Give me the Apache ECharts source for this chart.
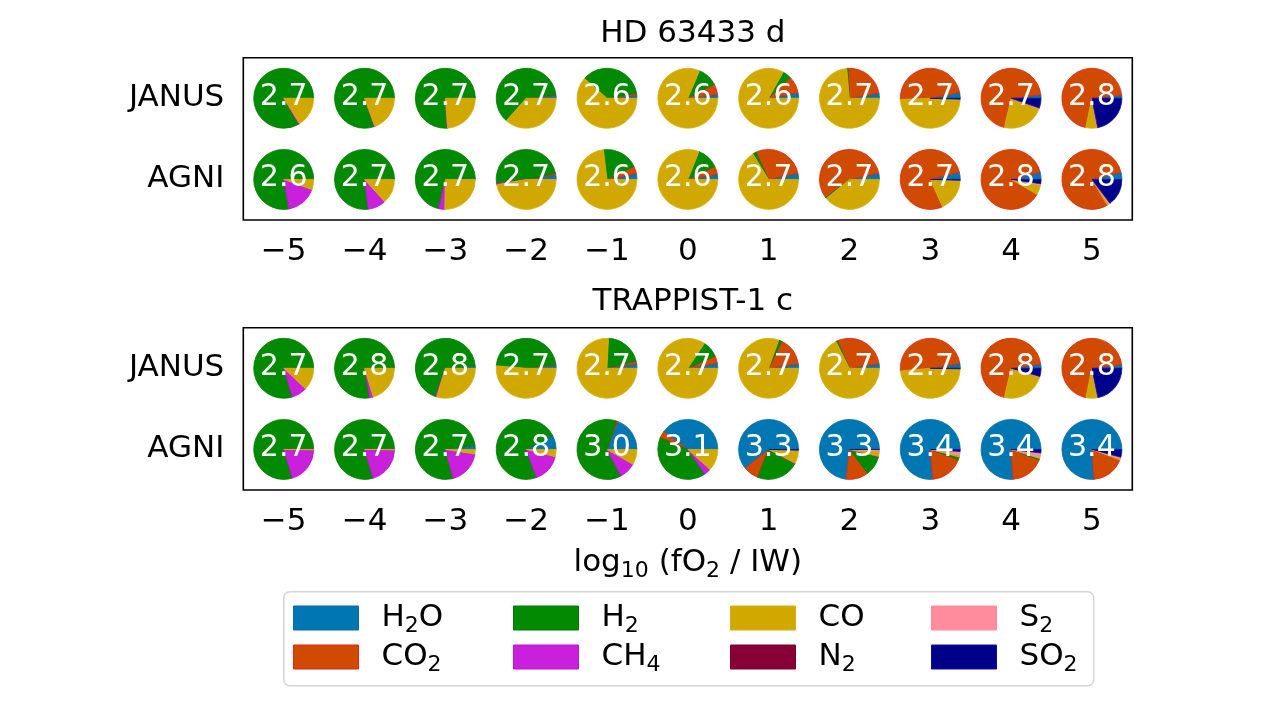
<!DOCTYPE html>
<html>
<head>
<meta charset="utf-8">
<script src="https://cdn.jsdelivr.net/npm/echarts@6/dist/echarts.min.js"></script>
<style>
  html, body { margin: 0; padding: 0; background: #fff; }
  #chart { width: 1279px; height: 720px; }
</style>
</head>
<body>
<div id="chart"></div>
<script>
// wedge order: counter-clockwise from 3 o'clock
const species = ['H2O', 'CO2', 'H2', 'CH4', 'CO', 'N2', 'S2', 'SO2'];
const speciesColors = ['#0077b3', '#d14a02', '#028a02', '#c820db', '#d1a800', '#870036', '#ff8c9d', '#00008b'];
const speciesEdges = ['#0a6aa0', '#e2250f', '#027a02', '#c010d0', '#d8ae10', '#7a0030', '#ff8c9d', '#10109a'];
const speciesLabels = {
    H2O: '{n|H}{s|2}{n|O}', CO2: '{n|CO}{s|2}', H2: '{n|H}{s|2}', CH4: '{n|CH}{s|4}',
    CO: '{n|CO}{s|\u200b}', N2: '{n|N}{s|2}', S2: '{n|S}{s|2}', SO2: '{n|SO}{s|2}'
};

const xLabels = ['\u22125', '\u22124', '\u22123', '\u22122', '\u22121', '0', '1', '2', '3', '4', '5'];
const models = ['JANUS', 'AGNI'];
const planets = ['HD 63433 d', 'TRAPPIST-1 c'];

// mole fractions in %, one row per log10(fO2/IW) step, columns follow `species`
const hdJanus = [
    [0, 0, 83.3, 0.6, 16.1, 0, 0, 0],
    [0, 0, 80.3, 0.3, 19.4, 0, 0, 0],
    [0.4, 0, 75.6, 0.2, 23.8, 0, 0, 0],
    [1.6, 0.3, 61.6, 0, 36.5, 0, 0, 0],
    [1.7, 1.0, 35.8, 0, 61.5, 0, 0, 0],
    [2.2, 5.6, 10.8, 0, 81.4, 0, 0, 0],
    [3.0, 9.2, 4.7, 0, 83.1, 0, 0, 0],
    [2.8, 23.0, 0.6, 0, 73.6, 0, 0, 0],
    [3.1, 47.5, 0, 0, 48.9, 0, 0, 0.5],
    [1.9, 69.5, 0, 0, 23.0, 0, 0.3, 5.3],
    [1.7, 70.0, 0, 0, 6.1, 0, 0.3, 21.9]
];
const hdAgni = [
    [0, 0, 77.8, 16.7, 5.5, 0, 0, 0],
    [0.3, 0, 76.7, 9.7, 13.3, 0, 0, 0],
    [0.8, 0, 70.6, 3.3, 25.3, 0, 0, 0],
    [2.5, 0.8, 48.9, 0.7, 47.1, 0, 0, 0],
    [3.1, 4.1, 19.7, 0, 73.1, 0, 0, 0],
    [2.8, 4.4, 11.7, 0, 81.1, 0, 0, 0],
    [3.3, 28.7, 1.8, 0, 66.2, 0, 0, 0],
    [3.3, 57.0, 0.6, 0, 39.1, 0, 0, 0],
    [3.9, 77.8, 0, 0, 17.8, 0, 0, 0.5],
    [3.9, 87.8, 0, 0, 5.5, 0, 0.5, 2.3],
    [3.9, 79.7, 0, 0, 1.1, 0, 0.6, 14.7]
];
const trJanus = [
    [0, 0, 79.7, 8.3, 12.0, 0, 0, 0],
    [0.4, 0, 77.4, 1.9, 20.3, 0, 0, 0],
    [1.4, 0, 68.3, 0.6, 29.7, 0, 0, 0],
    [1.7, 0.3, 46.7, 0, 51.3, 0, 0, 0],
    [2.5, 1.4, 20.3, 0, 75.8, 0, 0, 0],
    [2.8, 3.9, 8.9, 0, 84.4, 0, 0, 0],
    [2.5, 15.3, 1.7, 0, 80.5, 0, 0, 0],
    [2.5, 29.1, 0.8, 0, 67.6, 0, 0, 0],
    [2.5, 48.9, 0, 0, 48.3, 0, 0, 0.3],
    [2.2, 69.2, 0, 0, 23.9, 0, 0.3, 4.4],
    [1.9, 69.6, 0, 0, 6.1, 0, 0.3, 21.7]
];
const trAgni = [
    [0, 0, 79.7, 20.0, 0.3, 0, 0, 0],
    [0.3, 0, 79.3, 20.1, 0.3, 0, 0, 0],
    [2.2, 0, 76.9, 18.3, 2.5, 0, 0, 0],
    [7.7, 0, 72.8, 15.5, 3.9, 0, 0, 0],
    [19.2, 0.6, 63.0, 8.9, 8.3, 0, 0, 0],
    [40.0, 3.6, 41.1, 3.6, 11.7, 0, 0, 0],
    [60.8, 8.2, 23.1, 0.3, 7.2, 0, 0, 0.4],
    [73.3, 12.1, 10.7, 0.2, 2.8, 0, 0.8, 0.1],
    [76.4, 18.1, 1.4, 0, 1.1, 0, 1.9, 1.1],
    [75.8, 18.1, 0.8, 0, 0.8, 0, 2.2, 1.9],
    [76.1, 18.1, 0, 0, 0.8, 0, 0.8, 4.2]
];

// numbers printed in the middle of each pie
const hdJanusMmw = [2.7, 2.7, 2.7, 2.7, 2.6, 2.6, 2.6, 2.7, 2.7, 2.7, 2.8];
const hdAgniMmw = [2.6, 2.7, 2.7, 2.7, 2.6, 2.6, 2.7, 2.7, 2.7, 2.8, 2.8];
const trJanusMmw = [2.7, 2.8, 2.8, 2.7, 2.7, 2.7, 2.7, 2.7, 2.7, 2.8, 2.8];
const trAgniMmw = [2.7, 2.7, 2.7, 2.8, 3.0, 3.1, 3.3, 3.3, 3.4, 3.4, 3.4];

const FONT = 'DejaVu Sans';
const panels = [
    {fracs: [hdJanus, hdAgni], mmw: [hdJanusMmw, hdAgniMmw]},
    {fracs: [trJanus, trAgni], mmw: [trJanusMmw, trAgniMmw]}
];

/** wedge data for one species: [x index, row, start fraction, end fraction] */
function wedgeData(panel, k) {
    let out = [];
    panel.fracs.forEach(function (rowData, row) {
        rowData.forEach(function (f, xi) {
            let total = f.reduce((a, b) => a + b, 0);
            let before = 0;
            for (let j = 0; j < k; j++) before += f[j];
            if (f[k] > 0) out.push([xi, row, before / total, (before + f[k]) / total]);
        });
    });
    return out;
}

function renderWedge(params, api) {
    let c = api.coord([api.value(0), api.value(1)]);
    let r = api.size([1, 1])[0] * 0.371;
    let a0 = api.value(2) * Math.PI * 2;
    let a1 = api.value(3) * Math.PI * 2;
    let k = params.seriesIndex % 9;
    return {
        type: 'sector',
        shape: {cx: c[0], cy: c[1], r0: 0, r: r, startAngle: -a0, endAngle: -a1, clockwise: false},
        style: {fill: speciesColors[k], stroke: speciesEdges[k], lineWidth: 0.8}
    };
}

function renderLabel(params, api) {
    let c = api.coord([api.value(0), api.value(1)]);
    return {
        type: 'text',
        x: c[0],
        y: c[1] - 1,
        style: {
            text: api.value(2).toFixed(1),
            fill: '#fff',
            fontSize: 30,
            fontFamily: FONT,
            align: 'center',
            verticalAlign: 'middle'
        }
    };
}

const rich = {
    n: {fontSize: 31, fontFamily: FONT, color: '#000', lineHeight: 36},
    s: {fontSize: 22, fontFamily: FONT, color: '#000', lineHeight: 36, padding: [16, 0, 0, 0]}
};

let grids = [], xAxes = [], yAxes = [], series = [], titles = [];
panels.forEach(function (panel, p) {
    grids.push({left: 243.3, top: p === 0 ? 57.7 : 327.7, width: 889, height: 162.3,
        show: true, borderColor: '#000', borderWidth: 1.6, backgroundColor: '#fff', outerBoundsMode: 'none'});
    xAxes.push({
        type: 'category', gridIndex: p, data: xLabels,
        axisLine: {show: false},
        axisTick: {alignWithLabel: true, length: 8, lineStyle: {color: '#000', width: 1.5}},
        axisLabel: {color: '#000', fontSize: 31, fontFamily: FONT, margin: 16},
        name: p === 1 ? '{n|log}{s|10}{n| (fO}{s|2}{n| / IW)}' : '',
        nameLocation: 'middle', nameGap: 55,
        nameTextStyle: {rich: rich}
    });
    yAxes.push({
        type: 'category', gridIndex: p, data: models, inverse: true,
        axisLine: {show: false},
        axisTick: {alignWithLabel: true, length: 8, lineStyle: {color: '#000', width: 1.5}},
        axisLabel: {color: '#000', fontSize: 31, fontFamily: FONT, margin: 19, padding: [5, 0, 0, 0]}
    });
    titles.push({
        text: planets[p], left: 687.8, textAlign: 'center', top: p === 0 ? 13 : 281,
        textStyle: {fontSize: 31, fontWeight: 'normal', color: '#000', fontFamily: FONT}
    });
    species.forEach(function (name, k) {
        series.push({
            type: 'custom', name: name, xAxisIndex: p, yAxisIndex: p,
            itemStyle: {color: speciesColors[k], borderColor: speciesEdges[k], borderWidth: 1},
            encode: {x: 0, y: 1},
            renderItem: renderWedge,
            data: wedgeData(panel, k)
        });
    });
    let labelData = [];
    panel.mmw.forEach(function (vals, row) {
        vals.forEach(function (v, xi) { labelData.push([xi, row, v]); });
    });
    series.push({
        type: 'custom', name: 'mmw', xAxisIndex: p, yAxisIndex: p, z: 5,
        encode: {x: 0, y: 1},
        renderItem: renderLabel,
        data: labelData
    });
});

// legend: four columns of two entries
const legendCols = [['H2O', 'CO2'], ['H2', 'CH4'], ['CO', 'N2'], ['S2', 'SO2']];
const legendLeft = [293, 513, 730, 931];
let legends = legendCols.map(function (names, i) {
    return {
        orient: 'vertical', left: legendLeft[i], top: 599, itemGap: 1,
        data: names, icon: 'rect', itemWidth: 65, itemHeight: 24,
        padding: 0,
        itemStyle: {borderWidth: 1},
        textStyle: {fontSize: 31, fontFamily: FONT, color: '#000', padding: [0, 0, 0, 18], rich: rich},
        formatter: function (name) { return speciesLabels[name]; },
        selectedMode: false
    };
});

let chart = echarts.init(document.getElementById('chart'), null, {renderer: 'canvas'});
chart.setOption({
    animation: false,
    backgroundColor: '#fff',
    title: titles,
    grid: grids,
    xAxis: xAxes,
    yAxis: yAxes,
    legend: legends,
    graphic: [{
        type: 'rect', left: 283, top: 591, z: -10, silent: true,
        shape: {width: 810, height: 94, r: 6},
        style: {fill: '#fff', stroke: '#d5d5d5', lineWidth: 1.5}
    }],
    series: series
});
</script>
</body>
</html>
